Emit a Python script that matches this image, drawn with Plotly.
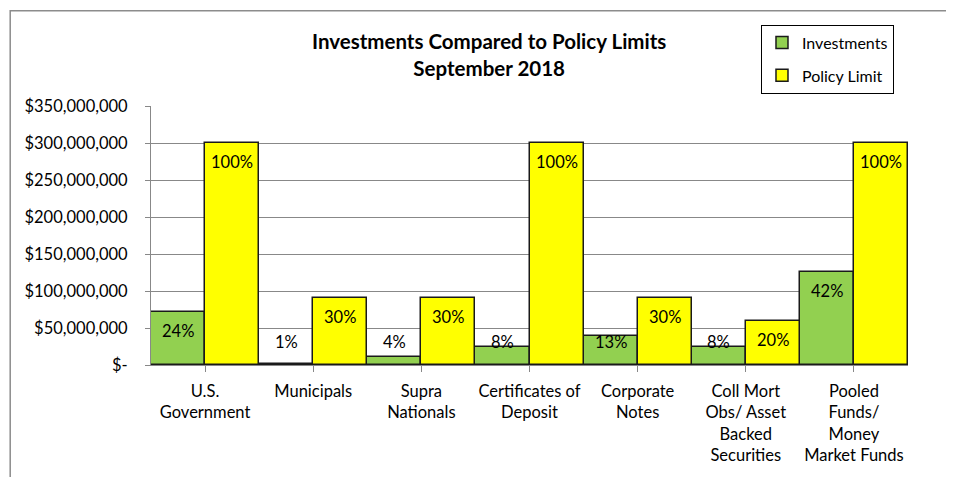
import plotly.graph_objects as go

categories = ["U.S.<br>Government", "Municipals", "Supra<br>Nationals",
              "Certificates of<br>Deposit", "Corporate<br>Notes",
              "Coll Mort<br>Obs/ Asset<br>Backed<br>Securities",
              "Pooled<br>Funds/<br>Money<br>Market Funds"]
investments = [71_000_000, 2_000_000, 11_000_000, 24_000_000, 39_000_000, 25_000_000, 126_000_000]
policy_limits = [300_000_000, 90_000_000, 90_000_000, 300_000_000, 90_000_000, 60_000_000, 300_000_000]
investment_pct = ["24%", "1%", "4%", "8%", "13%", "8%", "42%"]
policy_pct = ["100%", "30%", "30%", "100%", "30%", "20%", "100%"]
y_tickvals = [0, 50_000_000, 100_000_000, 150_000_000, 200_000_000, 250_000_000, 300_000_000, 350_000_000]
y_ticktext = ["$-", "$50,000,000", "$100,000,000", "$150,000,000", "$200,000,000",
              "$250,000,000", "$300,000,000", "$350,000,000"]

FONT = "Lato, 'Open Sans', sans-serif"
FS = 16.5
GREEN = "#92D050"
YELLOW = "#FFFF00"
GRID = "#888888"

fig = go.Figure()
fig.add_trace(go.Bar(x=list(range(len(categories))), y=investments, name="Investments",
                     marker=dict(color=GREEN, line=dict(color="#1a1a1a", width=1.5)),
                     legendgroup="a", hoverinfo="skip"))
fig.add_trace(go.Bar(x=list(range(len(categories))), y=policy_limits, name="Policy Limit",
                     marker=dict(color=YELLOW, line=dict(color="#1a1a1a", width=1.5)),
                     legendgroup="b", hoverinfo="skip"))

annotations = []
SHORT = 45_000_000
for series, labels, off in ((investments, investment_pct, -0.25), (policy_limits, policy_pct, 0.25)):
    for i, (v, t) in enumerate(zip(series, labels)):
        if v >= SHORT:
            annotations.append(dict(x=i + off, y=v, xref="x", yref="y", text=t, showarrow=False,
                                    yanchor="top", yshift=-7, font=dict(family=FONT, size=FS, color="black")))
        else:
            annotations.append(dict(x=i + off, y=0, xref="x", yref="y", text=t, showarrow=False,
                                    yanchor="bottom", yshift=11, font=dict(family=FONT, size=FS, color="black")))

annotations.append(dict(x=0.447, y=1.304, xref="paper", yref="paper", showarrow=False,
                        text="<b>Investments Compared to Policy Limits<br>September 2018</b>",
                        font=dict(family=FONT, size=20.5, color="black"), align="center"))

fig.update_layout(
    width=946, height=469,
    margin=dict(l=143, r=46, t=98, b=110),
    paper_bgcolor="white", plot_bgcolor="white",
    barmode="group", bargap=0, bargroupgap=0,
    font=dict(family=FONT, size=FS, color="black"),
    showlegend=True,
    legend=dict(x=0.9815, y=1.314, xanchor="right", yanchor="top", xref="paper", yref="paper",
                bordercolor="black", borderwidth=1, bgcolor="white",
                font=dict(family=FONT, size=16), tracegroupgap=9, traceorder="grouped",
                itemwidth=30),
    annotations=annotations,
    shapes=[dict(type="rect", xref="paper", yref="paper", x0=-0.186, x1=1.2, y0=-0.6, y1=1.368,
                 line=dict(color="#8C8C8C", width=1.5), layer="below")],
    xaxis=dict(tickmode="array", tickvals=list(range(len(categories))), ticktext=categories,
               range=[-0.5, len(categories) - 0.5], showgrid=False,
               showline=True, linecolor=GRID, linewidth=1,
               ticks="outside", tickson="boundaries", ticklen=6, tickcolor=GRID,
               ticklabelstandoff=5,
               tickfont=dict(family=FONT, size=FS), zeroline=False),
    yaxis=dict(range=[0, 350_000_000], tickmode="array", tickvals=y_tickvals, ticktext=y_ticktext,
               showgrid=True, gridcolor=GRID, gridwidth=1,
               showline=True, linecolor=GRID, linewidth=1,
               ticks="outside", ticklen=5, tickcolor=GRID, ticklabelstandoff=14,
               tickfont=dict(family=FONT, size=FS), zeroline=False),
)

fig.write_html("out.html")
